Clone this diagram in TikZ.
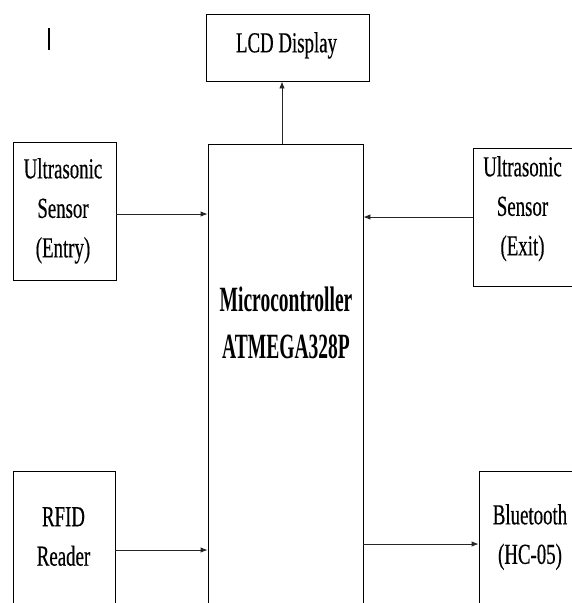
\documentclass[tikz,border=0pt]{standalone}
\usepackage{fontspec}
\setmainfont{Liberation Serif}
\newfontfamily\narrowrm[FakeStretch=0.65,FakeBold=0.4]{Liberation Serif}
\newfontfamily\narrowbf[FakeStretch=0.55]{Liberation Serif}
\usetikzlibrary{arrows.meta}

\begin{document}
\begin{tikzpicture}[
    x=1pt, y=-1pt,
    block/.style={draw, line width=0.85pt, inner sep=0pt},
    lbl/.style={align=center, anchor=north, inner sep=0pt,
        font=\narrowrm\fontsize{29}{39.5}\selectfont},
    boldlbl/.style={lbl, font=\narrowbf\bfseries\fontsize{35.5}{47}\selectfont},
    link/.style={-{Latex[length=7pt,width=5.5pt]}, line width=0.85pt, black!85}
]
\clip (0,0) rectangle (572,603);

% Stray mark
\coordinate (mark-top) at (49,28);
\coordinate (mark-bot) at (49,50);
\draw[line width=1.3pt] (mark-top) -- (mark-bot);

% Boxes
\node[block, minimum width=163pt, minimum height=67pt] (lcd) at (287.5,47.5) {};
\node[block, minimum width=155pt, minimum height=476pt] (mcu) at (285.5,382) {};
\node[block, minimum width=103pt, minimum height=138pt] (entry) at (64.5,211) {};
\node[block, minimum width=117pt, minimum height=138pt] (exit) at (531.5,217) {};
\node[block, minimum width=102pt, minimum height=149pt] (rfid) at (64,545.5) {};
\node[block, minimum width=111pt, minimum height=149pt] (bt) at (534.5,545.5) {};

% Labels
\node[lbl] (lcd-txt) at (286.5,32) {LCD Display};
\node[lbl] (entry-txt) at (63,158) {Ultrasonic\\Sensor\\(Entry)};
\node[lbl] (exit-txt) at (522.5,156) {Ultrasonic\\Sensor\\(Exit)};
\node[boldlbl] (mcu-txt) at (286,287) {Microcontroller\\ATMEGA328P};
\node[lbl] (rfid-txt) at (63.5,507) {RFID\\Reader};
\node[lbl] (bt-txt) at (530,504) {Bluetooth\\(HC-05)};

% Connections
\draw[link] ([xshift=-3.5pt]mcu.north) -- ([xshift=-5.5pt]lcd.south);
\draw[link] ([yshift=-3pt]entry.east) -- ([yshift=-3pt]entry.east -| mcu.west);
\draw[link] (exit.west) -- (exit.west -| mcu.east);
\draw[link] ([yshift=-4.5pt]rfid.east) -- ([yshift=-4.5pt]rfid.east -| mcu.west);
\draw[link] ([yshift=1.5pt]bt.west -| mcu.east) -- ([yshift=1.5pt]bt.west);

\end{tikzpicture}
\end{document}
